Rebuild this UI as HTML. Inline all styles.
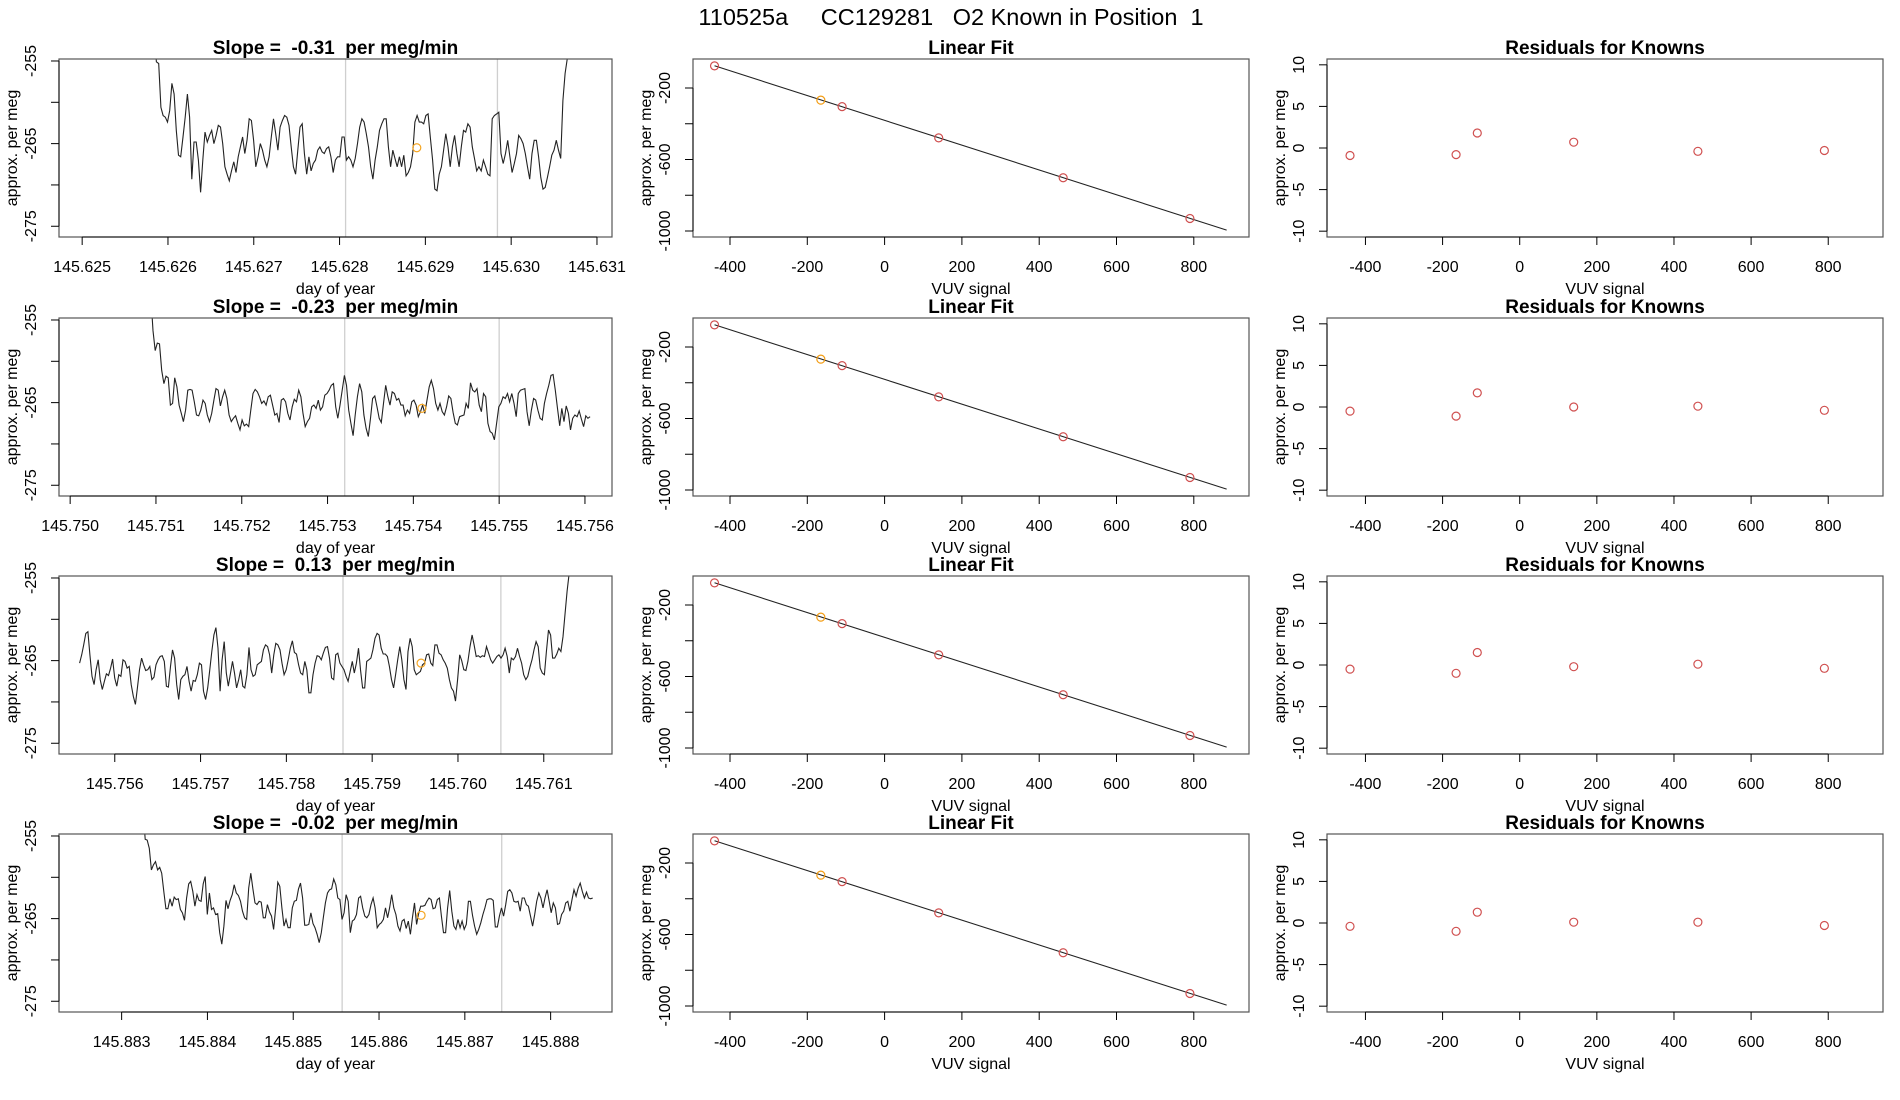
<!DOCTYPE html>
<html><head><meta charset="utf-8">
<style>
html,body{margin:0;padding:0;background:#fff;}
svg{display:block;font-family:"Liberation Sans",sans-serif;}
</style></head>
<body>
<svg id="fig" width="1900" height="1100" viewBox="0 0 1900 1100" xmlns="http://www.w3.org/2000/svg">
<rect width="1900" height="1100" fill="#fff"/>
<text x="951" y="25" font-size="23.5" text-anchor="middle" xml:space="preserve" style="white-space:pre">110525a     CC129281   O2 Known in Position  1</text>
<g id="root"></g>
</svg>
<script>
// ---- data ----
const slopeLabels = ["-0.31", "-0.23", "0.13", "-0.02"];
const timeXMin = [145.62473, 145.74987, 145.75535, 145.88227];
const timeTickStart = [145.625, 145.750, 145.756, 145.883];
const timeTickCount = [7, 7, 6, 6];
const traceStart = [145.62584, 145.75094, 145.75559, 145.88325];
const traceEnd = [145.63068, 145.75606, 145.76132, 145.88849];
const markerLines = [[145.62807, 145.62984],[145.7532, 145.7550],[145.75866, 145.76050],[145.88557, 145.88743]];
const orangeT = [145.62890, 145.75410, 145.75957, 145.88649];
const orangeV = [-265.5, -265.7, -265.3, -264.6];
const trace1 = [-252,-255.1,-255.3,-260.6,-261.6,-261.8,-262.4,-261.0,-257.7,-259.0,-263.4,-266.4,-266.6,-264.2,-261.8,-259.0,-261.8,-269.3,-264.8,-264.8,-267.0,-270.9,-267.0,-263.6,-264.8,-264.0,-263.4,-265.0,-264.0,-262.8,-263.0,-265.0,-267.8,-268.7,-269.5,-268.3,-267.2,-268.5,-266.6,-265.4,-264.2,-266.2,-264.6,-262.0,-262.2,-264.6,-267.8,-266.6,-265.0,-265.8,-267.0,-267.8,-266.6,-264.2,-262.0,-263.8,-265.8,-263.0,-262.2,-261.6,-261.8,-262.8,-265.4,-267.8,-268.7,-265.8,-263.0,-262.6,-266.2,-268.7,-266.6,-268.3,-267.4,-267.0,-265.8,-265.4,-266.0,-266.2,-265.6,-265.4,-266.6,-268.5,-267.0,-266.6,-266.6,-264.2,-264.2,-267.0,-266.6,-267.0,-267.8,-266.8,-265.0,-263.0,-262.0,-262.4,-263.8,-265.4,-267.8,-269.3,-267.0,-265.4,-263.4,-262.6,-262.0,-262.0,-265.4,-267.8,-265.8,-266.8,-267.8,-266.6,-267.8,-266.4,-268.9,-268.5,-267.8,-266.2,-262.4,-261.6,-262.4,-262.4,-262.6,-261.6,-261.4,-264.2,-267.0,-270.5,-270.7,-268.7,-267.8,-265.8,-263.8,-265.4,-267.8,-265.4,-264.0,-266.2,-267.8,-265.4,-263.4,-263.6,-262.6,-263.0,-265.4,-266.8,-268.3,-267.8,-268.3,-267.0,-267.8,-268.7,-268.9,-262.0,-261.6,-261.4,-261.2,-266.2,-267.4,-266.2,-264.6,-266.6,-268.5,-267.4,-266.2,-264.0,-264.4,-265.0,-266.2,-267.8,-269.3,-266.2,-264.6,-264.6,-266.6,-269.1,-270.5,-270.3,-269.1,-267.8,-266.4,-265.8,-264.6,-265.8,-266.8,-259.8,-256.5,-254.7,-250];
const trace2 = [-252,-256.3,-258.7,-257.8,-257.9,-261.1,-262.7,-261.8,-262.0,-265.3,-265.1,-262.0,-263.1,-265.3,-266.3,-267.3,-265.9,-263.5,-263.4,-263.5,-264.9,-266.5,-266.6,-265.9,-264.7,-265.1,-266.5,-267.3,-266.3,-264.7,-263.3,-263.5,-265.4,-264.3,-263.5,-264.5,-266.5,-267.3,-266.9,-266.6,-267.5,-268.3,-267.1,-267.8,-267.6,-267.9,-265.9,-263.9,-263.4,-263.7,-264.3,-265.1,-264.8,-265.3,-264.3,-264.1,-265.3,-266.5,-266.3,-267.4,-264.7,-264.5,-264.9,-266.3,-267.1,-265.5,-264.6,-264.9,-263.5,-264.3,-266.3,-267.9,-267.3,-266.9,-265.5,-265.3,-265.7,-264.7,-265.9,-265.5,-264.1,-263.9,-263.5,-262.9,-262.7,-265.5,-266.9,-265.3,-263.5,-261.7,-262.9,-265.9,-267.5,-269.0,-266.5,-264.3,-262.7,-263.7,-266.5,-268.1,-269.1,-266.9,-264.5,-264.2,-265.5,-266.9,-267.4,-265.1,-262.9,-264.3,-265.3,-263.7,-263.9,-264.7,-264.5,-265.3,-265.3,-266.6,-265.9,-266.3,-264.9,-264.7,-265.3,-266.7,-266.1,-265.3,-266.3,-264.7,-263.1,-262.3,-263.3,-265.1,-265.9,-265.1,-266.1,-266.5,-265.5,-264.2,-264.5,-266.2,-267.5,-267.7,-266.7,-266.6,-266.5,-265.1,-265.7,-262.6,-263.5,-263.7,-263.3,-265.3,-266.1,-263.9,-264.3,-267.5,-268.5,-268.7,-269.5,-267.5,-265.5,-265.1,-264.3,-264.5,-263.9,-264.9,-263.9,-265.1,-266.7,-263.9,-263.5,-263.4,-263.3,-266.1,-267.8,-265.9,-264.5,-264.7,-265.9,-266.9,-267.1,-265.1,-263.9,-262.9,-261.7,-261.6,-263.5,-265.7,-267.8,-265.7,-267.3,-265.4,-266.3,-268.3,-266.9,-266.5,-266.7,-266.0,-267.0,-267.9,-266.6,-266.9,-266.7];
const trace3 = [-265.3,-264.3,-263.1,-261.7,-261.5,-264.3,-266.9,-267.9,-266.1,-264.9,-267.3,-268.5,-267.5,-266.6,-266.8,-265.9,-264.8,-267.1,-268.1,-266.7,-266.9,-264.9,-265.1,-265.9,-265.7,-267.9,-269.3,-270.3,-268.3,-266.1,-264.7,-265.5,-266.2,-266.1,-265.7,-267.3,-267.0,-265.5,-264.9,-264.5,-264.4,-265.1,-268.1,-268.2,-265.7,-263.7,-264.7,-267.9,-269.7,-267.3,-266.9,-266.7,-265.7,-267.5,-268.7,-267.4,-267.5,-266.7,-265.3,-265.5,-268.7,-269.7,-268.3,-266.2,-263.9,-261.9,-261.0,-263.5,-268.7,-264.9,-262.7,-266.5,-268.1,-266.6,-265.1,-266.5,-268.3,-267.3,-266.1,-268.1,-268.3,-266.7,-263.4,-266.1,-266.9,-266.7,-265.5,-265.3,-265.1,-263.7,-263.1,-263.3,-264.3,-266.5,-264.3,-262.9,-263.1,-263.7,-265.3,-266.7,-266.1,-264.9,-263.5,-262.6,-264.0,-264.2,-265.5,-266.5,-266.7,-265.1,-266.1,-268.9,-268.9,-266.7,-265.3,-264.4,-264.5,-264.9,-264.1,-263.4,-263.3,-264.7,-267.1,-267.3,-264.3,-264.1,-265.3,-265.7,-266.1,-266.9,-267.5,-266.3,-265.1,-266.5,-265.3,-263.5,-266.1,-268.3,-268.3,-265.1,-264.9,-264.7,-263.7,-262.3,-261.7,-261.9,-263.5,-264.2,-264.2,-264.5,-265.7,-267.3,-268.3,-266.7,-264.9,-263.3,-264.9,-267.3,-268.5,-263.9,-262.3,-263.3,-266.1,-266.7,-266.5,-266.3,-265.5,-265.3,-264.3,-264.2,-265.3,-265.6,-263.1,-263.1,-264.1,-264.3,-264.9,-265.3,-265.9,-267.3,-268.3,-268.7,-269.9,-267.3,-264.3,-265.0,-266.1,-266.2,-265.1,-263.3,-261.9,-263.1,-264.5,-264.4,-264.6,-264.4,-264.5,-263.3,-264.1,-264.9,-265.3,-264.9,-264.5,-264.3,-264.7,-264.3,-263.5,-264.5,-266.5,-264.7,-264.9,-264.5,-263.5,-264.5,-265.3,-266.7,-267.3,-266.9,-265.8,-264.9,-263.7,-262.7,-263.3,-265.9,-266.5,-266.7,-263.9,-261.3,-261.9,-264.7,-264.7,-264.2,-263.5,-263.9,-262.1,-259.4,-256.6,-254.4,-251];
const trace4 = [-252,-255.4,-255.5,-256.5,-259.1,-258.5,-258.1,-259.1,-258.8,-259.5,-261.7,-263.8,-263.8,-262.6,-263.5,-262.4,-262.7,-262.6,-263.9,-264.3,-265.2,-262.5,-260.8,-260.5,-261.7,-263.5,-262.1,-262.8,-262.9,-260.8,-259.9,-264.5,-261.9,-263.9,-263.7,-264.5,-264.4,-266.7,-268.1,-265.9,-262.8,-263.8,-262.8,-262.1,-260.9,-261.9,-262.2,-262.9,-264.1,-264.9,-265.1,-261.3,-259.5,-261.4,-263.1,-263.3,-262.9,-263.0,-264.9,-264.9,-263.3,-264.2,-264.7,-266.3,-263.7,-260.6,-261.1,-263.7,-265.9,-265.1,-266.1,-266.1,-263.7,-262.9,-262.8,-261.4,-260.7,-262.5,-265.8,-265.8,-265.7,-264.3,-265.6,-266.1,-266.9,-267.9,-266.7,-264.9,-263.1,-261.9,-261.5,-261.4,-260.2,-260.9,-262.5,-262.7,-265.1,-264.3,-262.1,-262.9,-266.7,-265.3,-265.1,-264.5,-262.5,-262.3,-263.7,-264.7,-264.9,-264.5,-263.3,-262.5,-263.7,-266.1,-265.7,-265.5,-265.1,-263.7,-264.9,-263.7,-262.1,-263.7,-264.5,-265.9,-266.5,-265.3,-265.1,-266.2,-265.3,-266.9,-264.9,-263.1,-265.7,-264.4,-263.5,-263.5,-263.4,-262.9,-262.5,-262.7,-263.8,-263.7,-262.7,-262.5,-264.7,-266.7,-266.7,-263.7,-261.6,-264.1,-265.9,-266.3,-265.1,-266.1,-265.3,-266.3,-265.7,-262.9,-262.9,-264.6,-265.9,-266.9,-266.3,-265.5,-264.5,-263.7,-262.7,-262.6,-262.6,-262.8,-266.0,-266.0,-264.7,-263.7,-264.7,-263.3,-261.7,-261.5,-261.9,-262.9,-263.0,-262.9,-264.1,-262.5,-262.5,-263.3,-263.5,-264.7,-265.9,-264.5,-262.9,-261.9,-262.5,-263.7,-262.5,-261.5,-262.9,-264.3,-263.1,-263.7,-265.7,-265.6,-264.5,-264.1,-263.1,-262.9,-264.1,-262.7,-261.5,-262.3,-261.3,-260.7,-261.7,-262.5,-261.8,-262.5,-262.6,-262.5];
const traces = [trace1, trace2, trace3, trace4];
const knownX = [-440, -165, -110, 140, 462, 790];
const knownY = [-76, -268, -304, -479, -702, -930];
const fitIntercept = -381;
const fitSlope = -0.694;
const fitXRange = [-440, 885];
const resid1 = [-0.9, -0.8, 1.8, 0.7, -0.4, -0.3];
const resid2 = [-0.5, -1.1, 1.7, 0.0, 0.1, -0.4];
const resid3 = [-0.5, -1.0, 1.5, -0.2, 0.1, -0.4];
const resid4 = [-0.4, -1.0, 1.3, 0.1, 0.1, -0.3];
const residuals = [resid1, resid2, resid3, resid4];
const yTicksTrace = [-255, -260, -265, -270, -275];
const yLabelsTrace = ["-255", "", "-265", "", "-275"];
const yTicksFit = [-200, -400, -600, -800, -1000];
const yLabelsFit = ["-200", "", "-600", "", "-1000"];
const yTicksRes = [10, 5, 0, -5, -10];
const xTicksSignal = [-400, -200, 0, 200, 400, 600, 800];

// ---- layout ----
const NS = "http://www.w3.org/2000/svg";
const root = document.getElementById("root");
const colL = [59, 693, 1327], colWs = [553, 556, 556], boxH = 178;
const rowTop = [59, 318, 576, 834];
function mk(tag, attrs, parent) {
  const e = document.createElementNS(NS, tag);
  for (const k in attrs) e.setAttribute(k, attrs[k]);
  (parent || root).appendChild(e);
  return e;
}
function lin(d0, d1, r0, r1) { return v => r0 + (v - d0) / (d1 - d0) * (r1 - r0); }

function frame(g, x0, colW, y0, title, xTicks, xLabels, yTicks, yLabels, xs, ys, xlab) {
  const box = mk("rect", {x: x0, y: y0, width: colW, height: boxH, fill: "none", stroke: "#555", "stroke-width": 1.2}, g);
  
  
  const t = mk("text", {x: x0 + colW / 2, y: y0 - 5, "font-size": 19, "font-weight": "bold", "text-anchor": "middle"}, g);
  
  
  t.setAttribute('xml:space', 'preserve');
  t.style.whiteSpace = "pre";
  t.textContent = title;
  const by = y0 + boxH;
  mk("line", {x1: xs(xTicks[0]), x2: xs(xTicks[xTicks.length - 1]), y1: by, y2: by, stroke: "#000"}, g);
  xTicks.forEach((v, i) => {
    const x = xs(v);
    mk("line", {x1: x, x2: x, y1: by, y2: by + 8, stroke: "#000"}, g);
    const lb = mk("text", {x: x, y: by + 35, "font-size": 16, "text-anchor": "middle"}, g);
    
    
    lb.textContent = xLabels[i];
  });
  const xl = mk("text", {x: x0 + colW / 2, y: by + 57, "font-size": 16, "text-anchor": "middle"}, g);
  
  
  xl.textContent = xlab;
  mk("line", {x1: x0, x2: x0, y1: ys(yTicks[0]), y2: ys(yTicks[yTicks.length - 1]), stroke: "#000"}, g);
  yTicks.forEach((v, i) => {
    const y = ys(v);
    mk("line", {x1: x0 - 8, x2: x0, y1: y, y2: y, stroke: "#000"}, g);
    if (yLabels[i] !== "") {
      const lb = mk("text", {x: 0, y: 0, "font-size": 16, "text-anchor": "middle", transform: `translate(${x0 - 23},${y}) rotate(-90)`}, g);
      
      
      lb.textContent = yLabels[i];
    }
  });
  const yl = mk("text", {x: 0, y: 0, "font-size": 16, "text-anchor": "middle", transform: `translate(${x0 - 42},${y0 + boxH / 2}) rotate(-90)`}, g);
  
  
  yl.textContent = "approx. per meg";
}

for (let r = 0; r < 4; r++) {
  const y0 = rowTop[r];
  // ---- trace panel ----
  const g1 = mk("g", {});
  
  
  const x0 = colL[0], w0 = colWs[0];
  const xs = lin(timeXMin[r], timeXMin[r] + w0 / 85800, x0, x0 + w0);
  const ys = lin(-254.76, -276.3, y0, y0 + boxH);
  const xt = [], xlbl = [];
  for (let i = 0; i < timeTickCount[r]; i++) { const v = timeTickStart[r] + i * 0.001; xt.push(v); xlbl.push(v.toFixed(3)); }
  const cp = mk("clipPath", {id: "clip" + r}, g1);
  mk("rect", {x: x0, y: y0, width: w0, height: boxH}, cp);
  markerLines[r].forEach(t => {
    const l = mk("line", {x1: xs(t), x2: xs(t), y1: y0, y2: y0 + boxH, stroke: "#cfcfcf", "stroke-width": 1.3}, g1);
    
    
  });
  const tr = traces[r];
  const n = tr.length;
  const pts = tr.map((v, i) => {
    const t = traceStart[r] + (traceEnd[r] - traceStart[r]) * i / (n - 1);
    return xs(t).toFixed(1) + "," + ys(v).toFixed(1);
  }).join(" ");
  const pl = mk("polyline", {points: pts, fill: "none", stroke: "#222", "stroke-width": 1.1, "clip-path": `url(#clip${r})`}, g1);
  
  
  const oc = mk("circle", {cx: xs(orangeT[r]), cy: ys(orangeV[r]), r: 4, fill: "none", stroke: "#f5a623", "stroke-width": 1.2}, g1);
  
  
  frame(g1, x0, w0, y0, "Slope =  " + slopeLabels[r] + "  per meg/min", xt, xlbl, yTicksTrace, yLabelsTrace, xs, ys, "day of year");

  // ---- linear fit panel ----
  const g2 = mk("g", {});
  
  
  const x1 = colL[1], w1 = colWs[1];
  const xs2 = lin(-495.7, 942.8, x1, x1 + w1);
  const ys2 = lin(-37.7, -1033.6, y0, y0 + boxH);
  const fl = mk("line", {x1: xs2(fitXRange[0]), y1: ys2(fitIntercept + fitSlope * fitXRange[0]), x2: xs2(fitXRange[1]), y2: ys2(fitIntercept + fitSlope * fitXRange[1]), stroke: "#222", "stroke-width": 1.1}, g2);
  
  
  knownX.forEach((xv, i) => {
    const c = mk("circle", {cx: xs2(xv), cy: ys2(knownY[i]), r: 4, fill: "none", stroke: i === 1 ? "#f39c12" : "#d05050", "stroke-width": 1.2}, g2);
    
    
  });
  frame(g2, x1, w1, y0, "Linear Fit", xTicksSignal, xTicksSignal.map(String), yTicksFit, yLabelsFit, xs2, ys2, "VUV signal");

  // ---- residuals panel ----
  const g3 = mk("g", {});
  
  
  const x2 = colL[2], w2 = colWs[2];
  const xs3 = lin(-499.7, 942, x2, x2 + w2);
  const ys3 = lin(10.7, -10.7, y0, y0 + boxH);
  knownX.forEach((xv, i) => {
    const c = mk("circle", {cx: xs3(xv), cy: ys3(residuals[r][i]), r: 4, fill: "none", stroke: "#d05050", "stroke-width": 1.2}, g3);
    
    
  });
  frame(g3, x2, w2, y0, "Residuals for Knowns", xTicksSignal, xTicksSignal.map(String), yTicksRes, yTicksRes.map(String), xs3, ys3, "VUV signal");
}
</script>
</body></html>
